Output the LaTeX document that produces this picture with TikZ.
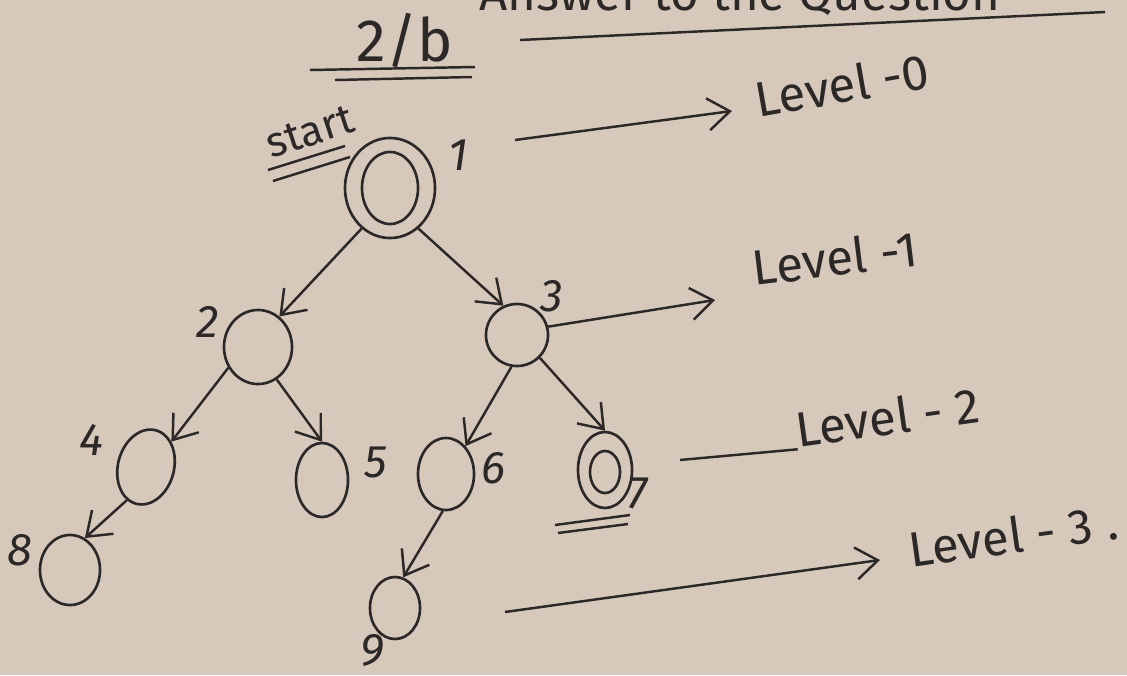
\documentclass[tikz,border=0pt]{standalone}
\usepackage{fontspec}
\setmainfont{Fira Sans}
\usetikzlibrary{arrows.meta,shapes.geometric}
\definecolor{paper}{RGB}{214,201,187}
\definecolor{ink}{RGB}{45,40,40}
\tikzset{
  st/.style={draw=ink, line width=0.75pt, ellipse, inner sep=0pt},
  edge/.style={draw=ink, line width=0.7pt, -{Straight Barb[length=2.2mm,width=3.2mm]}},
  plain/.style={draw=ink, line width=0.7pt},
  num/.style={text=ink, font=\fontsize{13}{15}\selectfont\itshape},
  lev/.style={text=ink, font=\fontsize{14}{16}\selectfont, inner sep=0pt}
}
\begin{document}
\begin{tikzpicture}[x=0.01cm,y=-0.01cm]
\useasboundingbox (0,0) rectangle (1127,675);
\clip (0,0) rectangle (1127,675);
\fill[paper] (0,0) rectangle (1127,675);

% header
\node[lev, anchor=south] (ans) at (740,16) {Answer to the Question};
\node[lev, font=\fontsize{17}{19}\selectfont] (title) at (405,40) {2/b};
\draw[plain] (310,70) -- (475,67);
\draw[plain] (335,80) -- (472,77);
\draw[plain] (520,40) -- (1105,12);

% start
\node[lev, rotate=18, font=\fontsize{12}{14}\selectfont] (start) at (310,132) {start};
\draw[plain] (268,170) -- (345,146);
\draw[plain] (273,181) -- (350,157);

% nodes
\node[st, minimum width=0.9cm, minimum height=1.0cm] (n1) at (390,188) {};
\node[st, minimum width=0.56cm, minimum height=0.72cm] (n1i) at (390,188) {};
\node[st, minimum width=0.68cm, minimum height=0.74cm] (n2) at (258,347) {};
\node[st, minimum width=0.62cm, minimum height=0.62cm] (n3) at (517,335) {};
\node[st, minimum width=0.56cm, minimum height=0.76cm, rotate=-15] (n4) at (146,467) {};
\node[st, minimum width=0.52cm, minimum height=0.74cm] (n5) at (322,480) {};
\node[st, minimum width=0.56cm, minimum height=0.72cm] (n6) at (446,474) {};
\node[st, minimum width=0.54cm, minimum height=0.76cm] (n7) at (605,470) {};
\node[st, minimum width=0.30cm, minimum height=0.42cm] (n7i) at (605,472) {};
\node[st, minimum width=0.60cm, minimum height=0.70cm] (n8) at (70,570) {};
\node[st, minimum width=0.50cm, minimum height=0.62cm] (n9) at (395,608) {};

% labels
\node[num] (l1) at (458,155) {1};
\node[num] (l2) at (208,322) {2};
\node[num] (l3) at (552,296) {3};
\node[num] (l4) at (92,440) {4};
\node[num] (l5) at (376,462) {5};
\node[num] (l6) at (494,468) {6};
\node[num] (l7) at (638,493) {7};
\node[num] (l8) at (20,550) {8};
\node[num] (l9) at (372,650) {9};
\draw[plain] (555,525) -- (630,515);
\draw[plain] (558,533) -- (628,524);

% tree edges
\draw[edge] (n1.235) -- (n2.55);
\draw[edge] (n1.305) -- (n3.115);
\draw[edge] (n2.215) -- (n4.60);
\draw[edge] (n2.300) -- (n5.90);
\draw[edge] (n3.260) -- (n6.55);
\draw[edge] (n3.315) -- (n7.90);
\draw[edge] (n4.255) -- (n8.65);
\draw[edge] (n6.265) -- (n9.75);

% levels
\node[lev, rotate=10, anchor=west] (L0) at (755,100) {Level -0};
\node[lev, rotate=7, anchor=west] (L1) at (752,268) {Level -1};
\node[lev, rotate=8, anchor=west] (L2) at (795,430) {Level - 2};
\node[lev, rotate=8, anchor=west] (L3) at (908,550) {Level - 3 .};

\coordinate (a0) at (515,140);
\coordinate (b0) at (732,111);
\draw[edge] (a0) -- (b0);
\coordinate (b1) at (715,300);
\draw[edge] (n3.15) -- (b1);
\coordinate (a2) at (680,460);
\draw[plain] (a2) -- (L2.south west);
\coordinate (a3) at (505,612);
\coordinate (b3) at (880,560);
\draw[edge] (a3) -- (b3);
\end{tikzpicture}
\end{document}
